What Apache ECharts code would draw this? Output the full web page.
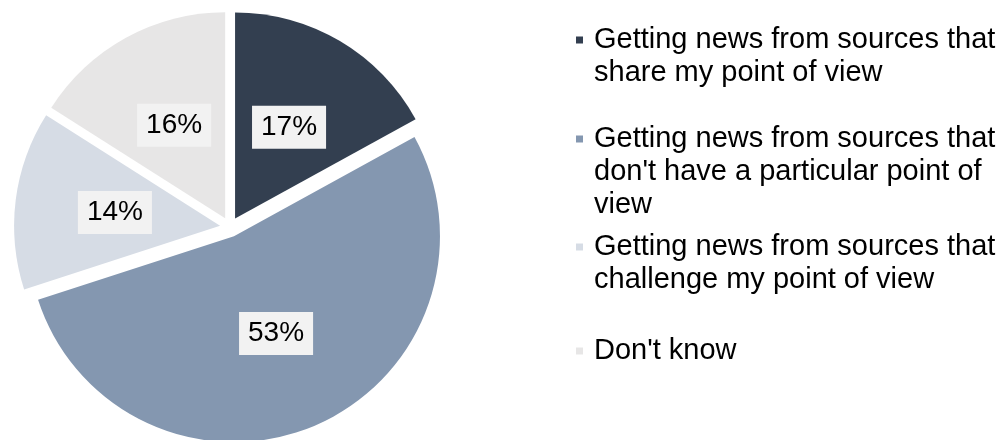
<!DOCTYPE html>
<html>
<head>
<meta charset="utf-8">
<script src="https://cdn.jsdelivr.net/npm/echarts@6/dist/echarts.min.js"></script>
<style>
  html, body { margin: 0; padding: 0; background: #ffffff; }
  #chart { width: 1007px; height: 440px; }
</style>
</head>
<body>
<div id="chart"></div>
<script>
// Survey answers, in pie order (clockwise from 12 o'clock)
const categories = [
  "Getting news from sources that share my point of view",
  "Getting news from sources that don't have a particular point of view",
  "Getting news from sources that challenge my point of view",
  "Don't know"
];
// Legend text, wrapped line by line
const legendLines = [
  ["Getting news from sources that", "share my point of view"],
  ["Getting news from sources that", "don't have a particular point of", "view"],
  ["Getting news from sources that", "challenge my point of view"],
  ["Don't know"]
];
// Percent of respondents
const shares = [17, 53, 14, 16];

// ---- styling & layout ----
const sliceColors = ['#333F50', '#8497B0', '#D6DCE5', '#E7E6E6'];
const FONT = '"Liberation Sans", Arial, Helvetica, sans-serif';
const LEGEND_FONT = 29;
const LEGEND_LH = 33;
const LEGEND_LEFT = 576;
const legendMarkerY = [40, 139, 247, 351];

// One legend block per entry. The legend centres its text on the marker, so
// blank lines are prepended to keep the marker level with the first line.
const legends = categories.map((name, i) => {
  const n = legendLines[i].length;
  return {
    orient: 'vertical',
    left: LEGEND_LEFT,
    top: legendMarkerY[i] - (2 * n - 1) * LEGEND_LH / 2,
    padding: 0,
    itemWidth: 7,
    itemHeight: 7,
    icon: 'rect',
    selectedMode: false,
    data: [name],
    formatter: () => '\n'.repeat(n - 1) + legendLines[i].join('\n'),
    textStyle: {
      fontFamily: FONT,
      fontSize: LEGEND_FONT,
      lineHeight: LEGEND_LH,
      color: '#000000',
      padding: [0, 0, 0, 6]
    }
  };
});

const chart = echarts.init(document.getElementById('chart'), null, { renderer: 'canvas' });
chart.setOption({
  animation: false,
  backgroundColor: '#ffffff',
  legend: legends,
  series: [{
    type: 'pie',
    center: [230, 227],
    radius: 206,
    startAngle: 90,
    clockwise: true,
    selectedMode: 'multiple',
    selectedOffset: 10,
    avoidLabelOverlap: false,
    emphasis: { disabled: true },
    select: { itemStyle: { borderWidth: 0 } },
    itemStyle: { borderWidth: 0 },
    label: {
      show: true,
      position: 'inside',
      formatter: '{c}%',
      fontFamily: FONT,
      fontSize: 28,
      lineHeight: 29,
      color: '#000000',
      backgroundColor: '#F2F2F2',
      padding: [8, 9, 6, 9]
    },
    labelLine: { show: false },
    data: categories.map((name, i) => ({
      name: name,
      value: shares[i],
      selected: true,
      itemStyle: { color: sliceColors[i] }
    }))
  }]
});
</script>
</body>
</html>
